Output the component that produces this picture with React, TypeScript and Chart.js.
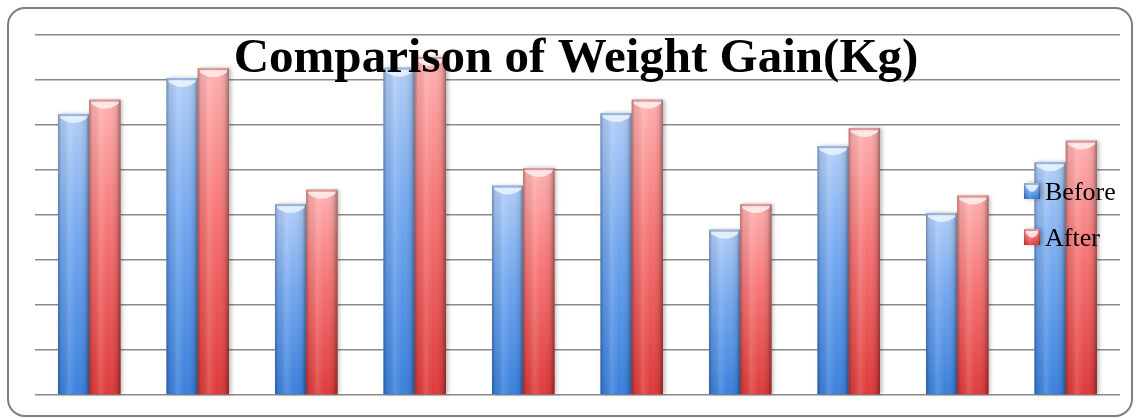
import React, { useEffect, useRef } from 'react';
import { Chart, registerables } from 'chart.js';

Chart.register(...registerables);

const categories = ['1', '2', '3', '4', '5', '6', '7', '8', '9', '10'];
const seriesNames = ['Before', 'After'];
const beforeValues = [62.4, 70.4, 42.4, 72.7, 46.5, 62.6, 36.7, 55.3, 40.4, 51.7];
const afterValues = [65.6, 72.6, 45.6, 75.1, 50.4, 65.6, 42.4, 59.3, 44.3, 56.5];
const yMin = 0;
const yMax = 80;
const yStep = 10;
const titleText = 'Comparison of Weight Gain(Kg)';

type Pal = { top: string; mid: string; bottom: string; cap: string; rim: string };
const bluePal: Pal = { top: '#b0cdf7', mid: '#72a7ef', bottom: '#3a80dc', cap: 'rgba(235,245,255,0.85)', rim: 'rgba(150,180,215,0.9)' };
const redPal: Pal = { top: '#ffb0b0', mid: '#f67474', bottom: '#df3a3a', cap: 'rgba(255,238,238,0.85)', rim: 'rgba(215,150,150,0.9)' };
const palettes = [bluePal, redPal];

function drawCylinder(ctx: CanvasRenderingContext2D, left: number, top: number, w: number, bottom: number, pal: Pal) {
  const h = bottom - top;
  if (h <= 0) return;
  ctx.save();
  ctx.shadowColor = 'rgba(0,0,0,0.28)';
  ctx.shadowBlur = 4;
  ctx.shadowOffsetX = 2;
  ctx.shadowOffsetY = 0;
  const g = ctx.createLinearGradient(0, top, 0, bottom);
  g.addColorStop(0, pal.top);
  g.addColorStop(0.45, pal.mid);
  g.addColorStop(1, pal.bottom);
  ctx.fillStyle = g;
  ctx.fillRect(left, top, w, h);
  ctx.restore();

  ctx.save();
  const hg = ctx.createLinearGradient(left, 0, left + w, 0);
  hg.addColorStop(0, 'rgba(0,0,0,0.30)');
  hg.addColorStop(0.1, 'rgba(0,0,0,0.06)');
  hg.addColorStop(0.35, 'rgba(255,255,255,0.14)');
  hg.addColorStop(0.6, 'rgba(255,255,255,0.0)');
  hg.addColorStop(0.88, 'rgba(0,0,0,0.10)');
  hg.addColorStop(1, 'rgba(0,0,0,0.38)');
  ctx.fillStyle = hg;
  ctx.fillRect(left, top, w, h);

  const capH = Math.min(11, h);
  ctx.fillStyle = pal.rim;
  ctx.fillRect(left + 1, top, w - 2, 2);
  ctx.fillStyle = pal.cap;
  ctx.beginPath();
  ctx.moveTo(left + 2, top + 2);
  ctx.lineTo(left + w - 2, top + 2);
  ctx.lineTo(left + w - 2, top + capH * 0.35);
  ctx.quadraticCurveTo(left + w / 2, top + capH * 1.25, left + 2, top + capH * 0.35);
  ctx.closePath();
  ctx.fill();
  ctx.restore();
}

const cylinderPlugin = {
  id: 'cylinders',
  afterDatasetsDraw(chart: any) {
    const ctx = chart.ctx as CanvasRenderingContext2D;
    chart.data.datasets.forEach((_: any, di: number) => {
      const meta = chart.getDatasetMeta(di);
      meta.data.forEach((bar: any) => {
        const p = bar.getProps(['x', 'y', 'base', 'width'], true);
        drawCylinder(ctx, p.x - p.width / 2, p.y, p.width, p.base, palettes[di]);
      });
    });
  },
};

const overlayPlugin = {
  id: 'overlay',
  afterDraw(chart: any) {
    const ctx = chart.ctx as CanvasRenderingContext2D;
    ctx.save();
    ctx.fillStyle = '#000';
    ctx.font = 'bold 49px "Liberation Serif"';
    ctx.textAlign = 'center';
    ctx.textBaseline = 'alphabetic';
    ctx.fillText(titleText, 576, 72);

    ctx.font = '26px "Liberation Serif"';
    ctx.textAlign = 'left';
    seriesNames.forEach((name, i) => {
      const by = 183 + i * 46;
      drawCylinder(ctx, 1024, by, 16, by + 16, palettes[i]);
      ctx.fillStyle = '#000';
      ctx.fillText(name, 1045, by + 17);
    });
    ctx.restore();
  },
};

export default function App() {
  const ref = useRef<HTMLCanvasElement | null>(null);
  useEffect(() => {
    if (!ref.current) return;
    const chart = new Chart(ref.current, {
      type: 'bar',
      data: {
        labels: categories,
        datasets: [
          { label: seriesNames[0], data: beforeValues, backgroundColor: bluePal.mid, borderWidth: 0 },
          { label: seriesNames[1], data: afterValues, backgroundColor: redPal.mid, borderWidth: 0 },
        ],
      },
      options: {
        responsive: false,
        animation: false,
        devicePixelRatio: 1,
        layout: { padding: { left: 35, right: 19, top: 35, bottom: 23 } },
        datasets: { bar: { categoryPercentage: 0.575, barPercentage: 1.0 } },
        plugins: {
          legend: { display: false },
          title: { display: false },
          tooltip: { enabled: false },
        },
        scales: {
          x: { display: false, grid: { display: false } },
          y: {
            min: yMin,
            max: yMax,
            ticks: { display: false, stepSize: yStep },
            grid: { color: '#8a8a8a', lineWidth: 1.6, drawTicks: false },
            border: { display: false },
          },
        },
      },
      plugins: [cylinderPlugin, overlayPlugin],
    });
    return () => chart.destroy();
  }, []);

  return (
    <div style={{ position: 'fixed', left: 0, top: 0, width: 1139, height: 418, background: '#fff', overflow: 'hidden' }}>
      <div
        style={{
          position: 'absolute',
          left: 7,
          top: 7,
          width: 1126,
          height: 410,
          border: '2px solid #7f7f7f',
          borderRadius: 18,
          boxSizing: 'border-box',
        }}
      />
      <canvas ref={ref} width={1139} height={418} style={{ position: 'absolute', left: 0, top: 0 }} />
    </div>
  );
}
